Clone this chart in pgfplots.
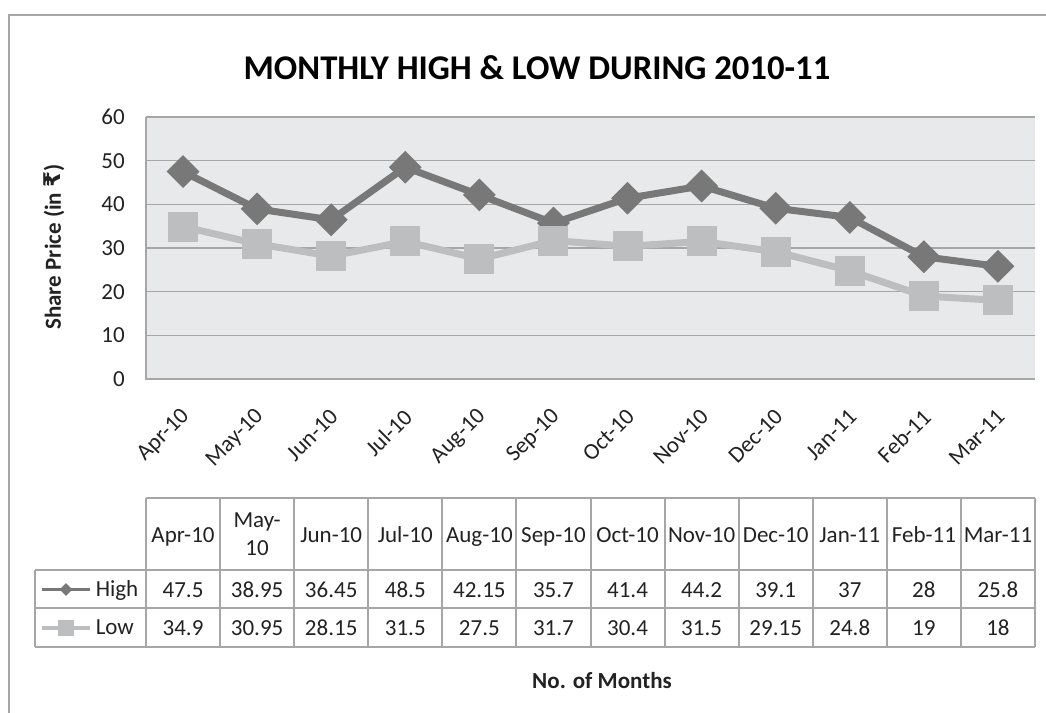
\documentclass[border=0pt]{standalone}
\usepackage{pgfplots}
\pgfplotsset{compat=1.18}
\usepackage{fontspec}
\setmainfont{Carlito}
\newfontfamily\rupee{DejaVu Sans}
\newlength\px \setlength\px{0.75pt}
\definecolor{plotbg}{HTML}{E8E9EA}
\definecolor{gridc}{HTML}{A6A6A6}
\definecolor{hic}{HTML}{787878}
\definecolor{loc}{HTML}{BDBEC0}
\definecolor{txt}{HTML}{222222}
\newcommand\tfont{\fontsize{17.25}{19.5}\selectfont}
\begin{document}
\begin{tikzpicture}
\path[use as bounding box] (0,0) rectangle (1046\px,-713\px);
\draw[gridc, line width=2\px] (9\px,-15\px) rectangle (1100\px,-800\px);
\begin{axis}[
  at={(146\px,-379\px)}, anchor=south west,
  scale only axis, width=889\px, height=262\px,
  xmin=-0.5, xmax=11.5, ymin=0, ymax=60,
  ytick={0,10,...,60}, xtick={0,...,11},
  xticklabels={Apr-10,May-10,Jun-10,Jul-10,Aug-10,Sep-10,Oct-10,Nov-10,Dec-10,Jan-11,Feb-11,Mar-11},
  /pgf/number format/assume math mode=true,
  axis background/.style={fill=plotbg},
  axis line style={draw=none},
  ymajorgrids, major grid style={gridc, line width=1.5\px},
  major tick length=0pt,
  tick label style={font=\tfont, text=txt},
  yticklabel style={inner sep=0pt, xshift=-21\px},
  xticklabel style={xshift=3\px, yshift=-34\px, rotate=45, anchor=east, inner sep=0pt},
  clip=false,
  legend style={at={(axis description cs:-0.11924,-0.72901)}, anchor=north west,
    draw=none, fill=none, inner sep=0pt, column sep=4\px, row sep=0pt,
    nodes={inner sep=0pt, minimum height=38.5\px, font=\tfont, text=txt}},
  legend cell align=left,
]
\draw[gridc, line width=1.5\px] (rel axis cs:0,1) -- (rel axis cs:0,0) -- (rel axis cs:1,0);
\addplot[hic, line width=7\px, mark=square*, mark size=8.1\px, mark options={rotate=45, solid},
  legend image code/.code={
    \path[draw=hic, line width=3.5\px] (0,0) -- (48\px,0);
    \path[fill=hic, draw=none, rotate around={45:(24\px,0)}] (19.5\px,-4.5\px) rectangle (28.5\px,4.5\px);
  }]
  coordinates {(0,47.5) (1,38.95) (2,36.45) (3,48.5) (4,42.15) (5,35.7) (6,41.4) (7,44.2) (8,39.1) (9,37) (10,28) (11,25.8)};
\addlegendentry{High}
\addplot[loc, line width=7\px, mark=square*, mark size=11.5\px, mark options={solid},
  legend image code/.code={
    \path[draw=loc, line width=3.5\px] (0,0) -- (48\px,0);
    \path[fill=loc, draw=none] (16\px,-8\px) rectangle (32\px,8\px);
  }]
  coordinates {(0,34.9) (1,30.95) (2,28.15) (3,31.5) (4,27.5) (5,31.7) (6,30.4) (7,31.5) (8,29.15) (9,24.8) (10,19) (11,18)};
\addlegendentry{Low}
\end{axis}
\begin{scope}[x=\px, y=\px]
% title and labels
\node[font=\fontsize{26}{30}\selectfont\bfseries, text=black, anchor=base] at (537,-80) {MONTHLY HIGH \& LOW DURING 2010-11};
\node[font=\tfont\bfseries, text=txt, rotate=90] at (54,-247) {Share Price (in {\rupee\bfseries ₹})};
\node[font=\tfont\bfseries, text=txt, anchor=base] at (602,-688) {No. of Months};
% data table
\begin{scope}[gridc, line width=2\px]
\draw (146,-498) -- (1035,-498);
\draw (35,-570) -- (1035,-570);
\draw (35,-608) -- (1035,-608);
\draw (35,-647) -- (1035,-647);
\draw (35,-570) -- (35,-647);
\foreach \k in {0,...,12} {\draw ({146+74.083*\k},-498) -- ({146+74.083*\k},-647);}
\end{scope}
\foreach \lab [count=\i from 0] in {Apr-10,Jun-10,Jul-10,Aug-10,Sep-10,Oct-10,Nov-10,Dec-10,Jan-11,Feb-11,Mar-11}
  {\pgfmathtruncatemacro\j{\i==0 ? 0 : \i+1}
   \node[font=\tfont, text=txt, anchor=base, inner sep=0pt] at ({183.04+74.083*\j},-542) {\lab};}
\node[font=\tfont, text=txt, anchor=base, inner sep=0pt] at (257.1,-527) {May-};
\node[font=\tfont, text=txt, anchor=base, inner sep=0pt] at (257.1,-555) {10};
\foreach \v [count=\i from 0] in {47.5,38.95,36.45,48.5,42.15,35.7,41.4,44.2,39.1,37,28,25.8}
  \node[font=\tfont, text=txt, anchor=base, inner sep=0pt] at ({183.04+74.083*\i},-597) {\v};
\foreach \v [count=\i from 0] in {34.9,30.95,28.15,31.5,27.5,31.7,30.4,31.5,29.15,24.8,19,18}
  \node[font=\tfont, text=txt, anchor=base, inner sep=0pt] at ({183.04+74.083*\i},-635) {\v};
\end{scope}
\end{tikzpicture}
\end{document}
